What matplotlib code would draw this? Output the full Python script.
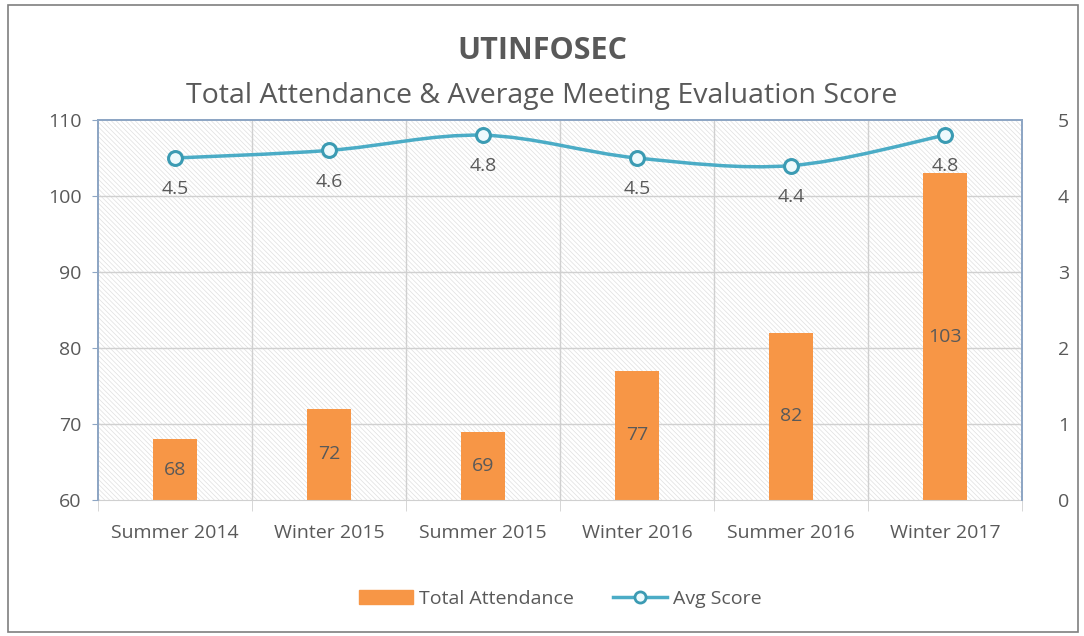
import numpy as np
import matplotlib.pyplot as plt
from matplotlib.path import Path
from matplotlib.patches import PathPatch, Rectangle
from matplotlib.lines import Line2D

plt.rcParams['font.family'] = ['Open Sans', 'DejaVu Sans']
plt.rcParams['hatch.linewidth'] = 0.5

categories = ['Summer 2014', 'Winter 2015', 'Summer 2015', 'Winter 2016', 'Summer 2016', 'Winter 2017']
attendance = [68, 72, 69, 77, 82, 103]
avg_score = [4.5, 4.6, 4.8, 4.5, 4.4, 4.8]

bar_color = '#F79646'
line_color = '#4BACC6'
text_color = '#595959'
fs = 14


def smooth_path(xs, ys, t=1 / 6):
    # catmull-rom style bezier through the points, like excel's smoothed line
    xs = np.asarray(xs, float)
    ys = np.asarray(ys, float)
    verts = [(xs[0], ys[0])]
    codes = [Path.MOVETO]
    n = len(xs)
    for i in range(n - 1):
        p0 = (xs[max(i - 1, 0)], ys[max(i - 1, 0)])
        p1 = (xs[i], ys[i])
        p2 = (xs[i + 1], ys[i + 1])
        p3 = (xs[min(i + 2, n - 1)], ys[min(i + 2, n - 1)])
        c1 = (p1[0] + (p2[0] - p0[0]) * t, p1[1] + (p2[1] - p0[1]) * t)
        c2 = (p2[0] - (p3[0] - p1[0]) * t, p2[1] - (p3[1] - p1[1]) * t)
        verts += [c1, c2, p2]
        codes += [Path.CURVE4] * 3
    return Path(verts, codes)


fig = plt.figure(figsize=(10.84, 6.36), dpi=100)
ax = fig.add_axes([0.0904, 0.2138, 0.8524, 0.5975])
ax2 = ax.twinx()

x = np.arange(len(categories))

# hatched plot background
ax.add_patch(Rectangle((0, 0), 1, 1, transform=ax.transAxes, facecolor='white',
                       edgecolor='#e0e0e0', hatch='\\' * 7, linewidth=0, zorder=0))

ax.set_xlim(-0.5, len(categories) - 0.5)
ax.set_ylim(60, 110)
ax.set_yticks(range(60, 111, 10))
ax2.set_ylim(0, 5)
ax2.set_yticks(range(0, 6))

for k in range(1, len(categories)):
    ax.axvline(k - 0.5, color='#d0d0d0', lw=1, zorder=1)
for v in range(70, 110, 10):
    ax.axhline(v, color='#d0d0d0', lw=1, zorder=1)

bars = ax.bar(x, [a - 60 for a in attendance], bottom=60, width=0.29,
              color=bar_color, zorder=2)
for xi, a in zip(x, attendance):
    ax.text(xi, (60 + a) / 2, str(a), ha='center', va='center',
            fontsize=fs, color=text_color, zorder=3)

ax2.add_patch(PathPatch(smooth_path(x, avg_score), facecolor='none',
                        edgecolor=line_color, lw=2.5, zorder=3))
ax2.plot(x, avg_score, 'o', ms=10, mfc='#eefafd', mec='#3b9bb3', mew=2.2, zorder=4)
for xi, s in zip(x, avg_score):
    ax2.annotate(f'{s}', (xi, s), xytext=(0, -16), textcoords='offset points',
                 ha='center', va='top', fontsize=fs, color=text_color)

ax.set_xticks(x)
ax.set_xticklabels(categories)
ax.set_xticks(np.arange(len(categories) + 1) - 0.5, minor=True)
ax.tick_params(axis='x', which='major', length=0, pad=17, labelsize=fs, labelcolor=text_color)
ax.tick_params(axis='x', which='minor', length=8, color='#d0d0d0')
ax.tick_params(axis='y', length=4, color='#8ea6c4', pad=8, labelsize=fs, labelcolor=text_color)
ax2.tick_params(axis='y', length=0, pad=26, labelsize=fs, labelcolor=text_color)

for a in (ax, ax2):
    for side in ('top', 'left', 'right'):
        a.spines[side].set_color('#8ea6c4')
        a.spines[side].set_linewidth(1.3)
    a.spines['bottom'].set_color('#d0d0d0')
ax2.spines['bottom'].set_visible(False)
ax.set_zorder(ax2.get_zorder() - 1)
ax2.patch.set_visible(False)

fig.text(0.5, 1 - 51 / 636, 'UTINFOSEC', ha='center', va='center',
         fontsize=22, fontweight='bold', color=text_color)
fig.text(0.5, 1 - 96 / 636, 'Total Attendance & Average Meeting Evaluation Score',
         ha='center', va='center', fontsize=20.5, color=text_color)

handles = [Rectangle((0, 0), 1, 1, color=bar_color),
           Line2D([], [], color=line_color, lw=2.5, marker='o', ms=8,
                  mfc='#eefafd', mec='#3b9bb3', mew=2)]
fig.legend(handles, ['Total Attendance', 'Avg Score'], loc='center',
           bbox_to_anchor=(0.517, 1 - 599 / 636), ncol=2, frameon=False,
           fontsize=fs, labelcolor=text_color, handlelength=2.8, columnspacing=2.0,
           handletextpad=0.3)

fig.patches.append(Rectangle((8 / 1084, 4 / 636), 1070 / 1084, 627 / 636,
                             transform=fig.transFigure, fill=False,
                             edgecolor='#7f7f7f', lw=1.2))

fig.savefig('out.png', dpi=100)
